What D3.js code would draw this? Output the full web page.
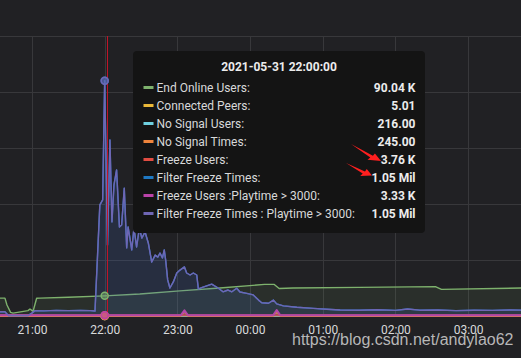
<!DOCTYPE html>
<html lang="en">
<head>
  <meta charset="UTF-8">
  <title>Freeze panel</title>
  <script src="https://d3js.org/d3.v7.min.js"></script>
  <style>
    body { margin: 0; background: #212124; }
    svg { display: block; font-family: Roboto, "Noto Sans", sans-serif; }
  </style>
</head>
<body>
  <svg id="chart" width="521" height="358"></svg>
  <script>
    // ---- data (values in thousands) ----
    var endOnlineTimes = ["20:33:30", "20:37:40", "20:39:20", "20:42:20", "20:44:20", "20:56:40", "20:58:20", "20:59:50",
      "21:00:50", "21:03:50", "21:06:40", "21:30:00", "22:00:00", "22:29:00", "23:02:00", "23:35:00", "00:12:00",
      "00:20:00", "00:24:00", "00:35:30", "01:30:00", "02:33:00", "02:38:00", "03:44:00"]
    var endOnlineUsers = [80, 80, 49, 16, 13, 24, 31, 25, 20, 79, 80, 84, 90.04, 98, 112, 125, 141, 141, 123, 125, 128, 131, 119, 125]

    var flatTimes = ["20:33:30", "22:00:00", "03:44:00"]
    var connectedPeers = [0.005, 0.00501, 0.005]
    var noSignalUsers = [0.21, 0.216, 0.2]
    var freezeUsers = [3.6, 3.76, 3.5]

    var spikeTimes = ["20:33:30", "22:00:00", "23:02:50", "23:05:50", "23:08:50", "00:19:00", "00:22:00", "00:25:00", "03:44:00"]
    var noSignalTimes = [0.2, 0.245, 0.2, 16, 0.2, 0.2, 18, 0.2, 0.2]
    var freezeUsersPlay = [3.2, 3.33, 3.3, 25, 3.3, 3.2, 27, 3.2, 3.1]

    var freezeTimesT = ["20:33:30", "20:37:40", "20:40:30", "20:56:40", "20:59:50", "21:02:30", "21:10:00", "21:20:00",
      "21:30:00", "21:40:00", "21:48:00", "21:52:00", "21:56:00", "21:58:20", "22:00:00", "22:02:20", "22:04:20",
      "22:06:00", "22:07:40", "22:09:50", "22:12:10", "22:14:00", "22:16:10", "22:18:10", "22:19:20", "22:20:50",
      "22:22:20", "22:24:10", "22:26:20", "22:28:40", "22:30:40", "22:33:20", "22:36:00", "22:38:50", "22:41:40",
      "22:43:50", "22:45:40", "22:47:40", "22:49:10", "22:50:20", "22:52:00", "22:53:50", "22:56:40", "22:59:30",
      "23:02:10", "23:05:50", "23:07:40", "23:10:30", "23:13:10", "23:16:00", "23:17:20", "23:21:10", "23:28:20",
      "23:33:40", "23:37:40", "23:41:50", "23:45:00", "23:49:00", "23:51:40", "23:57:20", "00:02:40", "00:07:00",
      "00:09:40", "00:15:10", "00:19:20", "00:22:00", "00:27:30", "00:38:40", "00:52:20", "01:03:20", "01:14:20",
      "01:30:00", "01:45:00", "02:00:00", "02:10:00", "02:20:00", "02:35:00", "02:50:00", "03:05:00", "03:20:00",
      "03:35:00", "03:44:00"]
    var filterFreezePlay = [19, 19, 2, 2, 13, 24, 23, 25, 24, 25, 24, 22, 496, 518, 1050, 317, 786, 420, 585, 652, 397,
      406, 571, 304, 397, 348, 295, 393, 308, 393, 348, 375, 326, 241, 272, 263, 281, 259, 295, 250, 161, 125, 152,
      192, 205, 219, 192, 183, 192, 183, 121, 129, 142, 125, 108, 116, 108, 124, 107, 101, 94, 71, 59, 57, 71, 54,
      45, 39, 34, 30, 27, 26, 28, 25, 31, 26, 27, 24, 26, 25, 27, 26]
    // Filter Freeze Times sits exactly under the playtime series in the picture
    var filterFreeze = filterFreezePlay

    var seriesNames = ["End Online Users:", "Connected Peers:", "No Signal Users:", "No Signal Times:", "Freeze Users:",
      "Filter Freeze Times:", "Freeze Users :Playtime > 3000:", "Filter Freeze Times : Playtime > 3000:"]
    var seriesColors = ["#7eb26d", "#eab839", "#6ed0e0", "#ef843c", "#e24d42", "#1f78c1", "#ba43a9", "#6f66b4"]
    var tooltipValues = ["90.04 K", "5.01", "216.00", "245.00", "3.76 K", "1.05 Mil", "3.33 K", "1.05 Mil"]
    var yTicks = [0, 250, 500, 750, 1000, 1250]
    var hoverTime = "22:00:00", crosshairTime = "22:02:00"
    var tooltipTitle = "2021-05-31 22:00:00"

    var parseT = d3.timeParse("%Y-%m-%d %H:%M:%S")
    function toDate(s) {
      var h = +s.slice(0, 2)
      return parseT((h >= 12 ? "2021-05-31 " : "2021-06-01 ") + s)
    }
    function pairs(times, vals) {
      return times.map(function (t, i) { return { t: toDate(t), v: vals[i], key: t } })
    }

    var series = [
      pairs(endOnlineTimes, endOnlineUsers),
      pairs(flatTimes, connectedPeers),
      pairs(flatTimes, noSignalUsers),
      pairs(spikeTimes, noSignalTimes),
      pairs(flatTimes, freezeUsers),
      pairs(freezeTimesT, filterFreeze),
      pairs(spikeTimes, freezeUsersPlay),
      pairs(freezeTimesT, filterFreezePlay)
    ]

    var svg = d3.select("#chart"),
      W = +svg.attr("width"), H = +svg.attr("height")

    var x = d3.scaleTime().domain([toDate("20:33:35"), toDate("03:43:40")]).range([0, W])
    var y = d3.scaleLinear().domain([0, 1250]).range([316, 36])

    svg.append("rect").attr("width", W).attr("height", H).attr("fill", "#212124")

    // grid
    var grid = svg.append("g").attr("stroke", "#38383b").attr("stroke-width", 1)
    grid.selectAll(".hy").data(yTicks).enter().append("line")
      .attr("x1", 0).attr("x2", W)
      .attr("y1", function (d) { return Math.round(y(d)) + 0.5 })
      .attr("y2", function (d) { return Math.round(y(d)) + 0.5 })
    var hourTicks = x.ticks(d3.timeHour.every(1))
    grid.selectAll(".vx").data(hourTicks).enter().append("line")
      .attr("y1", y(1250)).attr("y2", y(0))
      .attr("x1", function (d) { return Math.round(x(d)) + 0.5 })
      .attr("x2", function (d) { return Math.round(x(d)) + 0.5 })

    var area = d3.area().x(function (d) { return x(d.t) }).y0(y(0)).y1(function (d) { return y(d.v) })
    var line = d3.line().x(function (d) { return x(d.t) }).y(function (d) { return y(d.v) })

    series.forEach(function (s, i) {
      svg.append("path").datum(s).attr("d", area)
        .attr("fill", seriesColors[i]).attr("fill-opacity", 0.1)
      svg.append("path").datum(s).attr("d", line)
        .attr("fill", "none").attr("stroke", seriesColors[i])
        .attr("stroke-width", i === 6 || i === 4 ? 2 : 1.4).attr("stroke-linejoin", "round")
    })

    // crosshair
    var cx = Math.round(x(toDate(crosshairTime))) + 0.5
    svg.append("line")
      .attr("x1", cx).attr("x2", cx)
      .attr("y1", y(1250)).attr("y2", y(0))
      .attr("stroke", "#c01428").attr("stroke-width", 1)

    // hover points
    series.forEach(function (s, i) {
      var p = s.find(function (d) { return d.key === hoverTime })
      if (!p) return
      svg.append("circle").attr("cx", x(p.t)).attr("cy", y(p.v)).attr("r", 3.5)
        .attr("fill", seriesColors[i]).attr("fill-opacity", 0.5)
        .attr("stroke", seriesColors[i]).attr("stroke-width", 1.5)
    })

    // x axis labels
    var ax = svg.append("g").attr("transform", "translate(0,322)")
      .call(d3.axisBottom(x).ticks(d3.timeHour.every(1)).tickFormat(d3.timeFormat("%H:%M")).tickSize(0).tickPadding(3))
    ax.select(".domain").remove()
    ax.selectAll("text").attr("fill", "#d8d9da").style("font-size", "12px").style("font-family", "Roboto")

    // tooltip
    var tip = svg.append("g")
    tip.append("rect").attr("x", 133).attr("y", 51).attr("width", 292).attr("height", 182).attr("rx", 4)
      .attr("fill", "#141414")
    tip.append("text").attr("x", 279).attr("y", 71).attr("text-anchor", "middle")
      .attr("fill", "#ececec").style("font-size", "12px").style("font-weight", "bold").text(tooltipTitle)
    seriesNames.forEach(function (n, i) {
      var cy = 87.5 + i * 18
      tip.append("rect").attr("x", 143.5).attr("y", cy - 1.5).attr("width", 10).attr("height", 3)
        .attr("fill", seriesColors[i])
      tip.append("text").attr("x", 156.5).attr("y", cy + 4.3)
        .attr("fill", "#d8d9da").style("font-size", "12px").text(n)
      tip.append("text").attr("x", 415.5).attr("y", cy + 4.3).attr("text-anchor", "end")
        .attr("fill", "#ececec").style("font-size", "12px").style("font-weight", "bold").text(tooltipValues[i])
    })

    // red arrows pasted on top of the screenshot
    function arrowPath(x0, y0, x1, y1) {
      var dx = x1 - x0, dy = y1 - y0, L = Math.sqrt(dx * dx + dy * dy)
      var ux = dx / L, uy = dy / L, vx = -uy, vy = ux
      var pts = [[0, 0], [0.68, 2.2], [0.64, 5.5], [1, 0], [0.74, -3.5], [0.72, -0.6]]
      return "M" + pts.map(function (p) {
        return [x0 + ux * p[0] * L + vx * p[1], y0 + uy * p[0] * L + vy * p[1]].join(",")
      }).join("L") + "Z"
    }
    svg.append("path").attr("d", arrowPath(351, 144, 381, 161)).attr("fill", "#ff1f1f")
    svg.append("path").attr("d", arrowPath(346, 163, 372, 175.5)).attr("fill", "#ff1f1f")

    // watermark
    svg.append("text").attr("x", 292).attr("y", 345)
      .style("font-family", "'Liberation Sans', Arial, sans-serif").style("font-size", "16px")
      .attr("fill", "#d4d4d4").attr("fill-opacity", 0.85)
      .text("https://blog.csdn.net/andylao62")
  </script>
</body>
</html>
